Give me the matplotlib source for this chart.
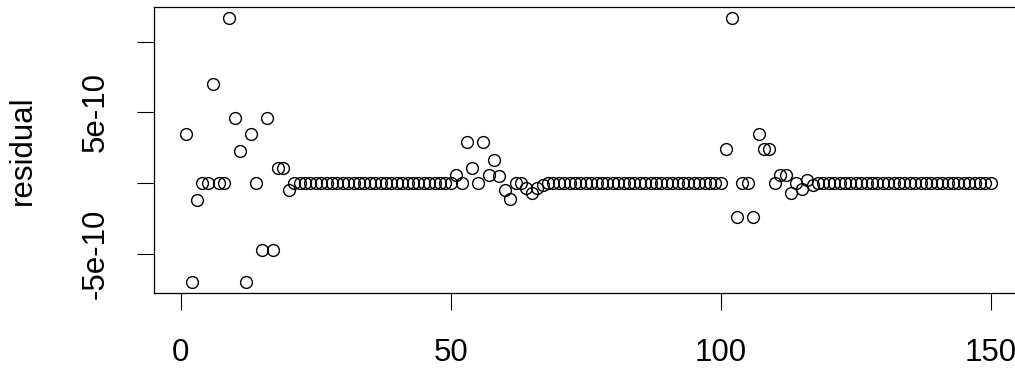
import matplotlib
matplotlib.use("Agg")
import matplotlib.pyplot as plt
import numpy as np

# residual values, in units of 1e-10
resid_e10 = [
    3.5, -7.0, -1.2, 0.0, 0.0, 7.0, 0.0, 0.0, 11.7, 4.6,
    2.3, -7.0, 3.5, 0.0, -4.7, 4.6, -4.7, 1.1, 1.1, -0.5,
    0.0, 0.0, 0.0, 0.0, 0.0, 0.0, 0.0, 0.0, 0.0, 0.0,
    0.0, 0.0, 0.0, 0.0, 0.0, 0.0, 0.0, 0.0, 0.0, 0.0,
    0.0, 0.0, 0.0, 0.0, 0.0, 0.0, 0.0, 0.0, 0.0, 0.0,
    0.6, 0.0, 2.9, 1.1, 0.0, 2.9, 0.6, 1.65, 0.5, -0.5,
    -1.1, 0.0, 0.0, -0.3, -0.7, -0.3, -0.1, 0.0, 0.0, 0.0,
    0.0, 0.0, 0.0, 0.0, 0.0, 0.0, 0.0, 0.0, 0.0, 0.0,
    0.0, 0.0, 0.0, 0.0, 0.0, 0.0, 0.0, 0.0, 0.0, 0.0,
    0.0, 0.0, 0.0, 0.0, 0.0, 0.0, 0.0, 0.0, 0.0, 0.0,
    2.4, 11.7, -2.4, 0.0, 0.0, -2.4, 3.5, 2.4, 2.4, 0.0,
    0.6, 0.6, -0.7, 0.0, -0.4, 0.2, -0.1, 0.0, 0.0, 0.0,
    0.0, 0.0, 0.0, 0.0, 0.0, 0.0, 0.0, 0.0, 0.0, 0.0,
    0.0, 0.0, 0.0, 0.0, 0.0, 0.0, 0.0, 0.0, 0.0, 0.0,
    0.0, 0.0, 0.0, 0.0, 0.0, 0.0, 0.0, 0.0, 0.0, 0.0,
]
index = list(range(1, len(resid_e10) + 1))
x_ticks = [0, 50, 100, 150]
x_tick_labels = ["0", "50", "100", "150"]
y_ticks = [-5e-10, 0.0, 5e-10, 1e-9]
y_tick_labels = ["-5e-10", "", "5e-10", ""]
y_label = "residual"

plt.rcParams['font.family'] = ['Liberation Sans', 'DejaVu Sans']

W, H = 1015, 371
fig = plt.figure(figsize=(W / 100, H / 100), dpi=100)
left, right, top, bottom = 154, 1023, 7, 293
ax = fig.add_axes([left / W, (H - bottom) / H, (right - left) / W, (bottom - top) / H])

resid = np.array(resid_e10) * 1e-10
ax.plot(index, resid, linestyle='none', marker='o', markersize=8.5,
        markerfacecolor='none', markeredgecolor='black', markeredgewidth=1.0)

xr = max(index) - min(index)
ax.set_xlim(min(index) - 0.04 * xr, max(index) + 0.04 * xr)
yr = resid.max() - resid.min()
ax.set_ylim(resid.min() - 0.04 * yr, resid.max() + 0.04 * yr)

ax.set_xticks(x_ticks)
ax.set_xticklabels(x_tick_labels, fontsize=22.5)
ax.set_yticks(y_ticks)
ax.set_yticklabels(y_tick_labels, fontsize=22.5, rotation=90, va='center')
ax.tick_params(axis='both', length=12.2, width=0.8, color='black')
ax.tick_params(axis='x', pad=20)
ax.tick_params(axis='y', pad=19)
for s in ax.spines.values():
    s.set_linewidth(0.9)
ax.set_ylabel(y_label, fontsize=22.5, labelpad=31)

fig.savefig("out.png", dpi=100)
